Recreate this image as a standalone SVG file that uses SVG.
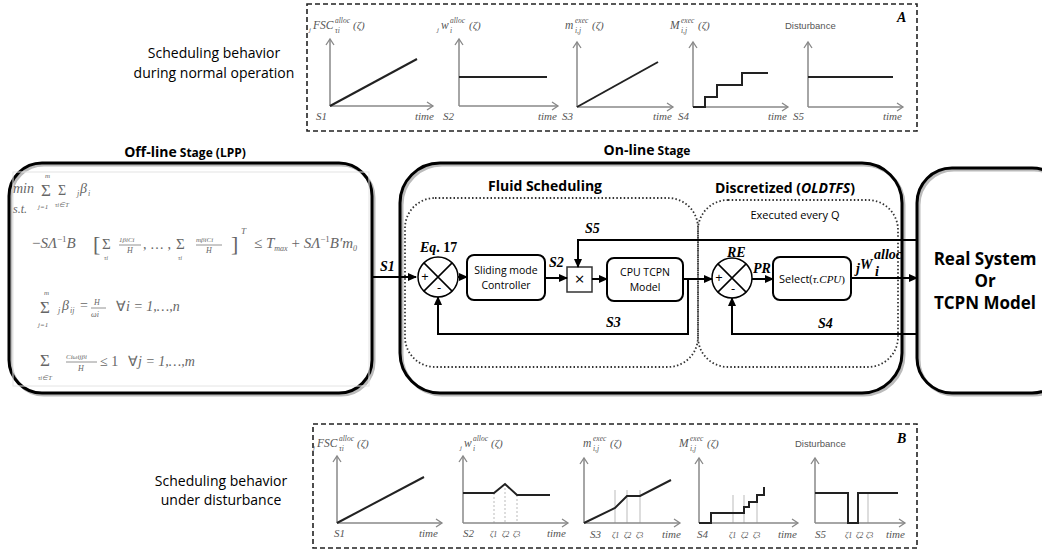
<svg xmlns="http://www.w3.org/2000/svg" width="1042" height="557" viewBox="0 0 1042 557">
<style>
.sans{font-family:"Open Sans","Liberation Sans",sans-serif;fill:#000;}
.ttl{font-family:"Open Sans","Liberation Sans",sans-serif;font-weight:bold;fill:#000;}
.math{font-family:"Liberation Serif",serif;font-weight:bold;font-style:italic;fill:#000;font-size:14px;}
.pl{font-family:"Liberation Serif",serif;font-style:italic;fill:#555;}
.plt{font-family:"Liberation Sans",sans-serif;fill:#555;font-size:9.5px;}
.eq{font-family:"Liberation Serif",serif;font-style:italic;fill:#666;}
.stage{fill:none;stroke:#000;stroke-width:3;}
.shadow{fill:none;stroke:#bbb;stroke-width:3;}
.dot{fill:none;stroke:#333;stroke-width:1.8;stroke-dasharray:1.5 2.2;}
.dash{fill:none;stroke:#222;stroke-width:1.6;stroke-dasharray:5 3;}
.box{fill:#fff;stroke:#000;stroke-width:2;}
.wire{fill:none;stroke:#000;stroke-width:2;}
.ax{fill:none;stroke:#888;stroke-width:1.5;}
.crv{fill:none;stroke:#222;stroke-width:2;}
.thin{fill:none;stroke:#aaa;stroke-width:0.8;}
</style>
<defs>
<marker id="arr" markerWidth="9" markerHeight="8" refX="8" refY="4" orient="auto" markerUnits="userSpaceOnUse"><path d="M0,0 L9,4 L0,8 z" fill="#000"/></marker>
<marker id="axa" markerWidth="10" markerHeight="10" refX="7" refY="5" orient="auto" markerUnits="userSpaceOnUse"><path d="M1,1 L7,5 L1,9" fill="none" stroke="#888" stroke-width="1.3"/></marker>
</defs>
<rect width="1042" height="557" fill="#fff"/>

<!-- Panel A -->
<g id="panelA">
<rect class="dash" x="307" y="4" width="610" height="127"/>
<text class="math" x="897" y="22" font-size="16">A</text>
<text class="sans" x="214" y="58" font-size="14" text-anchor="middle">Scheduling behavior</text>
<text class="sans" x="214" y="78" font-size="14" text-anchor="middle">during normal operation</text>
<!-- plot 1 -->
<path class="ax" d="M330,106 V39" marker-end="url(#axa)"/><path class="ax" d="M330,106 H433" marker-end="url(#axa)"/>
<path class="crv" d="M330,106 L417,59"/>
<text class="pl" x="309" y="32" font-size="7">j</text><text class="pl" x="313" y="29" font-size="11.5">FSC</text><text class="pl" x="335" y="23" font-size="7.5">alloc</text><text class="pl" x="335" y="33" font-size="7.5">τi</text><text class="pl" x="353" y="29" font-size="11">(ζ)</text>
<text class="pl" x="316" y="120" font-size="11">S1</text><text class="pl" x="415" y="120" font-size="11">time</text>
<!-- plot 2 -->
<path class="ax" d="M459,106 V39" marker-end="url(#axa)"/><path class="ax" d="M459,106 H558" marker-end="url(#axa)"/>
<path class="crv" d="M459,77 H547"/>
<text class="pl" x="437" y="32" font-size="7">j</text><text class="pl" x="441" y="29" font-size="11.5">w</text><text class="pl" x="450" y="23" font-size="7.5">alloc</text><text class="pl" x="450" y="33" font-size="7.5">i</text><text class="pl" x="469" y="29" font-size="11">(ζ)</text>
<text class="pl" x="443" y="120" font-size="11">S2</text><text class="pl" x="538" y="120" font-size="11">time</text>
<!-- plot 3 -->
<path class="ax" d="M577,107 V42" marker-end="url(#axa)"/><path class="ax" d="M577,107 H673" marker-end="url(#axa)"/>
<path class="crv" d="M577,107 L658,62"/>
<text class="pl" x="565" y="29" font-size="11.5">m</text><text class="pl" x="575" y="23" font-size="7.5">exec</text><text class="pl" x="575" y="33" font-size="7.5">i,j</text><text class="pl" x="592" y="29" font-size="11">(ζ)</text>
<text class="pl" x="562" y="120" font-size="11">S3</text><text class="pl" x="653" y="120" font-size="11">time</text>
<!-- plot 4 -->
<path class="ax" d="M693,107 V42" marker-end="url(#axa)"/><path class="ax" d="M693,107 H788" marker-end="url(#axa)"/>
<path class="crv" d="M693,107 H705 V97 H717 V85 H742 V73 H768"/>
<text class="pl" x="670" y="29" font-size="11.5">M</text><text class="pl" x="681" y="23" font-size="7.5">exec</text><text class="pl" x="681" y="33" font-size="7.5">i,j</text><text class="pl" x="698" y="29" font-size="11">(ζ)</text>
<text class="pl" x="678" y="120" font-size="11">S4</text><text class="pl" x="768" y="120" font-size="11">time</text>
<!-- plot 5 -->
<path class="ax" d="M808,107 V42" marker-end="url(#axa)"/><path class="ax" d="M808,107 H903" marker-end="url(#axa)"/>
<path class="crv" d="M808,77 H893"/>
<text class="plt" x="785" y="29">Disturbance</text>
<text class="pl" x="793" y="120" font-size="11">S5</text><text class="pl" x="883" y="120" font-size="11">time</text>
</g>

<!-- Panel B -->
<g id="panelB">
<rect class="dash" x="313" y="424" width="604" height="124"/>
<text class="math" x="897" y="443" font-size="16">B</text>
<text class="sans" x="221" y="486" font-size="14" text-anchor="middle">Scheduling behavior</text>
<text class="sans" x="221" y="505" font-size="14" text-anchor="middle">under disturbance</text>
<!-- plot 1 -->
<path class="ax" d="M337,523 V456" marker-end="url(#axa)"/><path class="ax" d="M337,523 H442" marker-end="url(#axa)"/>
<path class="crv" d="M337,523 L424,477"/>
<text class="pl" x="313" y="450" font-size="7">j</text><text class="pl" x="317" y="447" font-size="11.5">FSC</text><text class="pl" x="339" y="441" font-size="7.5">alloc</text><text class="pl" x="339" y="451" font-size="7.5">τi</text><text class="pl" x="357" y="447" font-size="11">(ζ)</text>
<text class="pl" x="334" y="537" font-size="11">S1</text><text class="pl" x="419" y="537" font-size="11">time</text>
<!-- plot 2 -->
<path class="thin" d="M494,493 V523 M505,484 V523 M517,495 V523" stroke-dasharray="2 2"/>
<path class="ax" d="M463,523 V456" marker-end="url(#axa)"/><path class="ax" d="M463,523 H568" marker-end="url(#axa)"/>
<path class="crv" d="M463,493 H494 L505,484 L517,495 H550"/>
<text class="pl" x="460" y="450" font-size="7">j</text><text class="pl" x="464" y="447" font-size="11.5">w</text><text class="pl" x="473" y="441" font-size="7.5">alloc</text><text class="pl" x="473" y="451" font-size="7.5">i</text><text class="pl" x="491" y="447" font-size="11">(ζ)</text>
<text class="pl" x="463" y="537" font-size="11">S2</text><text class="pl" x="490" y="537" font-size="8">ζ1</text><text class="pl" x="502" y="537" font-size="8">ζ2</text><text class="pl" x="513" y="537" font-size="8">ζ3</text><text class="pl" x="547" y="537" font-size="11">time</text>
<!-- plot 3 -->
<path class="thin" d="M615,490 V523 M627,490 V523 M640,490 V523"/>
<path class="ax" d="M584,523 V458" marker-end="url(#axa)"/><path class="ax" d="M584,523 H680" marker-end="url(#axa)"/>
<path class="crv" d="M584,523 L615,508 L627,496 H640 L671,480"/>
<text class="pl" x="583" y="447" font-size="11.5">m</text><text class="pl" x="593" y="441" font-size="7.5">exec</text><text class="pl" x="593" y="451" font-size="7.5">i,j</text><text class="pl" x="610" y="447" font-size="11">(ζ)</text>
<text class="pl" x="590" y="538" font-size="11">S3</text><text class="pl" x="612" y="538" font-size="8">ζ1</text><text class="pl" x="624" y="538" font-size="8">ζ2</text><text class="pl" x="636" y="538" font-size="8">ζ3</text><text class="pl" x="662" y="538" font-size="11">time</text>
<!-- plot 4 -->
<path class="thin" d="M733,495 V523 M744,495 V523 M757,495 V523"/>
<path class="ax" d="M699,523 V458" marker-end="url(#axa)"/><path class="ax" d="M699,523 H798" marker-end="url(#axa)"/>
<path class="crv" d="M699,523 H711 V513 H744 V507 H749 V502 H757 V495 H764 V487"/>
<text class="pl" x="679" y="447" font-size="11.5">M</text><text class="pl" x="690" y="441" font-size="7.5">exec</text><text class="pl" x="690" y="451" font-size="7.5">i,j</text><text class="pl" x="707" y="447" font-size="11">(ζ)</text>
<text class="pl" x="697" y="538" font-size="11">S4</text><text class="pl" x="729" y="538" font-size="8">ζ1</text><text class="pl" x="741" y="538" font-size="8">ζ2</text><text class="pl" x="753" y="538" font-size="8">ζ3</text><text class="pl" x="778" y="538" font-size="11">time</text>
<!-- plot 5 -->
<path class="thin" d="M868,493 V523"/>
<path class="ax" d="M815,523 V458" marker-end="url(#axa)"/><path class="ax" d="M815,523 H905" marker-end="url(#axa)"/>
<path class="crv" d="M815,493 H848 V523 H858 V493 H898"/>
<text class="plt" x="795" y="447">Disturbance</text>
<text class="pl" x="815" y="538" font-size="11">S5</text><text class="pl" x="845" y="538" font-size="8">ζ1</text><text class="pl" x="856" y="538" font-size="8">ζ2</text><text class="pl" x="866" y="538" font-size="8">ζ3</text><text class="pl" x="886" y="538" font-size="11">time</text>
</g>

<!-- Off-line stage -->
<g id="offline">
<text class="ttl" x="185" y="157" text-anchor="middle"><tspan font-size="14">Off-line</tspan><tspan font-size="12"> Stage (LPP)</tspan></text>
<rect class="shadow" x="11" y="165" width="363" height="230" rx="33"/>
<rect class="stage" x="9" y="163" width="363" height="230" rx="33" fill="#fff"/>
<rect x="13" y="172" width="356" height="214" fill="none" stroke="#e4e4e4" stroke-width="1"/>
<g class="eq">
<text x="13" y="193" font-size="14">min</text>
<text x="41" y="196" font-size="17" font-style="normal">Σ</text>
<text x="45" y="178" font-size="7">m</text>
<text x="38" y="209" font-size="7">j=1</text>
<text x="58" y="195" font-size="14" font-style="normal">Σ</text>
<text x="55" y="207" font-size="6.5">τi∈T</text>
<text x="77" y="196" font-size="8">j</text><text x="80" y="193" font-size="14">β</text><text x="88" y="196" font-size="8">i</text>
<text x="13" y="213" font-size="12">s.t.</text>
<text x="32" y="248" font-size="15"><tspan font-style="normal">−</tspan>SΛ<tspan font-size="9" dy="-6" font-style="normal">−1</tspan><tspan dy="6">B</tspan></text>
<text x="93" y="251" font-size="22" font-style="normal">[</text>
<text x="102" y="249" font-size="15" font-style="normal">Σ</text><text x="104" y="260" font-size="6.5">τi</text>
<text x="119" y="242" font-size="7">1βiCi</text><path d="M119,245 H141" stroke="#777" stroke-width="0.8"/><text x="127" y="253" font-size="8">H</text>
<text x="143" y="249" font-size="14" font-style="normal">, … ,</text>
<text x="176" y="249" font-size="15" font-style="normal">Σ</text><text x="178" y="260" font-size="6.5">τi</text>
<text x="196" y="242" font-size="7">mβiCi</text><path d="M196,245 H222" stroke="#777" stroke-width="0.8"/><text x="206" y="253" font-size="8">H</text>
<text x="231" y="251" font-size="22" font-style="normal">]</text><text x="241" y="234" font-size="9">T</text>
<text x="254" y="248" font-size="15"><tspan font-style="normal">≤ </tspan>T<tspan font-size="8" dy="3">max</tspan><tspan dy="-3" font-style="normal"> + </tspan>SΛ<tspan font-size="9" dy="-6" font-style="normal">−1</tspan><tspan dy="6">B′m</tspan><tspan font-size="8" dy="3">0</tspan></text>
<text x="40" y="313" font-size="17" font-style="normal">Σ</text><text x="44" y="295" font-size="7">m</text><text x="38" y="327" font-size="7">j=1</text>
<text x="58" y="313" font-size="8">j</text><text x="62" y="310" font-size="14">β</text><text x="70" y="313" font-size="8">ij</text>
<text x="80" y="310" font-size="14" font-style="normal">=</text>
<text x="94" y="305" font-size="8">H</text><path d="M91,308 H106" stroke="#777" stroke-width="0.8"/><text x="91" y="317" font-size="8">ωi</text>
<text x="116" y="311" font-size="14"><tspan font-style="normal">∀</tspan>i = 1,…,n</text>
<text x="40" y="366" font-size="17" font-style="normal">Σ</text><text x="38" y="380" font-size="6.5">τi∈T</text>
<text x="66" y="359" font-size="7">Ciωijβi</text><path d="M66,362 H97" stroke="#777" stroke-width="0.8"/><text x="78" y="371" font-size="8">H</text>
<text x="100" y="366" font-size="14" font-style="normal">≤ 1</text>
<text x="128" y="366" font-size="14"><tspan font-style="normal">∀</tspan>j = 1,…,m</text>
</g>
</g>

<!-- On-line stage -->
<g id="online">
<text class="ttl" x="647" y="155" text-anchor="middle"><tspan font-size="14">On-line</tspan><tspan font-size="12"> Stage</tspan></text>
<rect class="shadow" x="402" y="165" width="502" height="230" rx="40"/>
<rect class="stage" x="400" y="163" width="502" height="230" rx="40" fill="#fff"/>
</g>
<g id="fluid">
<rect class="dot" x="405" y="198" width="293" height="169" rx="30"/>
<text class="ttl" x="545" y="191" font-size="14" text-anchor="middle">Fluid Scheduling</text>
</g>
<g id="discretized">
<rect class="dot" x="698" y="200" width="200" height="167" rx="30"/>
<text class="ttl" x="785" y="193" font-size="14" text-anchor="middle">Discretized (<tspan font-style="italic">OLDTFS</tspan>)</text>
<text class="sans" x="795" y="219" font-size="11" text-anchor="middle" fill="#222">Executed every Q</text>
</g>
<g id="realsys">
<rect class="shadow" x="919" y="170" width="150" height="225" rx="35"/>
<rect class="stage" x="917" y="168" width="150" height="225" rx="35" fill="#fff"/>
<text class="ttl" x="985" y="265" font-size="17" text-anchor="middle">Real System</text>
<text class="ttl" x="985" y="287" font-size="17" text-anchor="middle">Or</text>
<text class="ttl" x="985" y="309" font-size="17" text-anchor="middle">TCPN  Model</text>
</g>

<!-- Blocks -->
<g id="sum1">
<circle cx="438" cy="277" r="20" fill="#fff" stroke="#000" stroke-width="1.5"/>
<path d="M423.9,262.9 L452.1,291.1 M452.1,262.9 L423.9,291.1" stroke="#000" stroke-width="1.5"/>
<text class="sans" x="425" y="281" font-size="13" text-anchor="middle">+</text>
<text class="sans" x="439" y="292" font-size="13" text-anchor="middle">-</text>
<text class="math" x="420" y="252">Eq<tspan font-style="normal">. 17</tspan></text>
</g>
<g id="smc">
<rect class="box" x="467" y="255" width="78" height="45" rx="7"/>
<text class="sans" x="506" y="274" font-size="10.5" text-anchor="middle" fill="#222">Sliding mode</text>
<text class="sans" x="506" y="289" font-size="10.5" text-anchor="middle" fill="#222">Controller</text>
</g>
<g id="mult">
<rect x="567" y="267" width="25" height="25" fill="#fff" stroke="#333" stroke-width="1.5"/>
<text class="sans" x="579.5" y="285" font-size="17" text-anchor="middle">×</text>
</g>
<g id="cpu">
<rect class="box" x="607" y="258" width="76" height="43" rx="7"/>
<text class="sans" x="645" y="276" font-size="10.5" text-anchor="middle" fill="#222">CPU TCPN</text>
<text class="sans" x="645" y="291" font-size="10.5" text-anchor="middle" fill="#222">Model</text>
</g>
<g id="sum2">
<circle cx="732" cy="278" r="20" fill="#fff" stroke="#000" stroke-width="1.5"/>
<path d="M717.9,263.9 L746.1,292.1 M746.1,263.9 L717.9,292.1" stroke="#000" stroke-width="1.5"/>
<text class="sans" x="719" y="282" font-size="13" text-anchor="middle">+</text>
<text class="sans" x="733" y="293" font-size="13" text-anchor="middle">-</text>
<text class="math" x="727" y="257">RE</text>
</g>
<g id="select">
<rect class="box" x="773" y="257" width="78" height="43" rx="7"/>
<text x="812" y="283" text-anchor="middle" font-size="11"><tspan class="sans" fill="#222">Select(</tspan><tspan font-family="Liberation Serif, serif" font-style="italic">τ.CPU</tspan><tspan font-family="Liberation Serif, serif">)</tspan></text>
</g>

<!-- Connectors -->
<g id="connectors">
<path class="wire" d="M372,277 H416" marker-end="url(#arr)"/>
<path class="wire" d="M458,277 H467" marker-end="url(#arr)"/>
<path class="wire" d="M545,278 H567" marker-end="url(#arr)"/>
<path class="wire" d="M917,240 H578 V267" marker-end="url(#arr)"/>
<path class="wire" d="M592,279 H607" marker-end="url(#arr)"/>
<path class="wire" d="M683,279 H712" marker-end="url(#arr)"/>
<path class="wire" d="M688,279 V334 H438 V297" marker-end="url(#arr)"/>
<path class="wire" d="M752,279 H773" marker-end="url(#arr)"/>
<path class="wire" d="M851,278 H917" marker-end="url(#arr)"/>
<path class="wire" d="M917,334 H732 V298" marker-end="url(#arr)"/>
<text class="math" x="380" y="271">S1</text>
<text class="math" x="549" y="267">S2</text>
<text class="math" x="606" y="327">S3</text>
<text class="math" x="818" y="328">S4</text>
<text class="math" x="585" y="233">S5</text>
<text class="math" x="753" y="273">PR</text>
<text class="math" x="856" y="273" font-size="8">j</text><text class="math" x="860" y="269" font-size="15">W</text><text class="math" x="874" y="259" font-size="8.5">alloc</text><text class="math" x="875" y="276" font-size="8">i</text>
</g>
</svg>
